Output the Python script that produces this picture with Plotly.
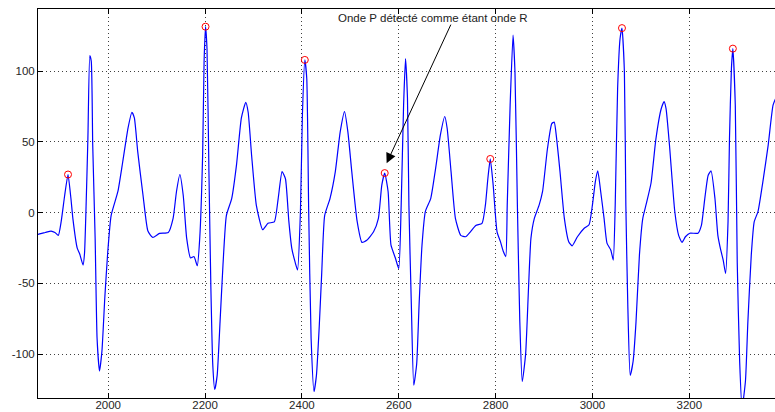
import plotly.graph_objects as go

# ECG samples (sample index, amplitude)
sample_idx = [
    1850, 1858, 1870, 1882, 1890, 1897, 1903, 1910, 1917, 1923, 1927, 1936, 1941, 1948,
    1951, 1954, 1958, 1962, 1965, 1968, 1973, 1977, 1982, 1987, 1993, 1999, 2006, 2020,
    2030, 2041, 2049, 2054, 2061, 2072, 2082, 2092, 2106, 2124, 2134, 2141, 2148, 2155,
    2162, 2170, 2177, 2184, 2189, 2195, 2198, 2201, 2204, 2208, 2212, 2216, 2220, 2225,
    2231, 2237, 2244, 2255, 2265, 2275, 2284, 2289, 2296, 2306, 2319, 2330, 2343, 2351,
    2359, 2366, 2373, 2379, 2386, 2391, 2397, 2401, 2406, 2410, 2414, 2419, 2425, 2430,
    2436, 2441, 2447, 2458, 2469, 2479, 2488, 2495, 2503, 2514, 2524, 2534, 2548, 2558,
    2565, 2571, 2578, 2584, 2593, 2600, 2605, 2610, 2614, 2618, 2621, 2626, 2631, 2637,
    2642, 2648, 2655, 2666, 2676, 2686, 2695, 2700, 2708, 2717, 2728, 2738, 2748, 2759,
    2772, 2779, 2784, 2789, 2795, 2803, 2810, 2816, 2821, 2824, 2830, 2836, 2840, 2845,
    2850, 2855, 2862, 2868, 2873, 2880, 2890, 2897, 2907, 2916, 2921, 2926, 2933, 2942,
    2951, 2958, 2969, 2983, 2993, 3000, 3006, 3011, 3017, 3024, 3030, 3038, 3043, 3047,
    3052, 3057, 3061, 3066, 3069, 3073, 3078, 3084, 3090, 3097, 3104, 3111, 3121, 3131,
    3142, 3148, 3152, 3159, 3170, 3178, 3185, 3192, 3201, 3218, 3225, 3232, 3239, 3245,
    3253, 3259, 3265, 3270, 3275, 3280, 3283, 3287, 3290, 3295, 3299, 3304, 3309, 3316,
    3321, 3328, 3334, 3342, 3352, 3363, 3373, 3380,
]
amplitude = [
    -16, -15, -14, -13, -14, -16, -6, 12, 27, 10, -4, -25, -29, -37,
    -29, 1, 52, 111, 107, 48, -18, -89, -112, -98, -60, -28, -2, 15,
    36, 60, 71, 67, 43, 12, -13, -17.5, -14.6, -14, -4, 15, 27, 12,
    -18, -32, -31, -37.5, -18, 41, 107, 131.5, 116, 29, -53, -108, -125, -115,
    -77, -37, -2, 10, 34, 67, 78, 71, 41, 5, -12, -7.5, -6.5, 10,
    29, 24, -6, -25, -35, -40.5, 1, 69, 108, 95, 1, -89, -126.5, -115,
    -79, -42, -2, 10, 29, 57, 71.5, 57, 29, -6, -21, -19.5, -13.5, -4,
    19.5, 28, 15, -23, -32, -39.5, 5, 76, 109, 81, 5, -65, -122, -107,
    -65, -23, 1, 10, 31, 55, 68, 59.5, 29, -4, -16, -17, -13.5, -9,
    -7.5, 5.5, 24, 38, 19.5, -13.5, -20.5, -27.5, -31, 5, 76, 125.5, 99.5, 5,
    -77, -119.5, -100, -53, -18, -4, 5.5, 15, 45, 63, 64, 52.5, 29, -4,
    -20.5, -23.5, -17, -11, -8.5, 5.5, 22, 29.5, 15, -4, -21.5, -26.5, -33.5, 5,
    88, 123, 130.5, 99.5, 5, -65, -115, -105, -77, -30, -4, 6, 21, 52,
    73.5, 78.5, 73.5, 48, 1, -16, -21, -17, -14.5, -14.5, -9, 10, 26.5, 29.5,
    10, -16, -26.5, -33.5, -43, -6.5, 52.5, 102, 116, 76, -35, -105, -138, -119,
    -77, -30, -6.5, 1, 22, 48, 76, 82,
]

# Peaks flagged by the R-wave detector
peak_idx = [1917, 2201, 2406, 2571, 2789, 3061, 3290]
peak_amp = [27, 131.5, 108, 28, 38, 130.5, 116]

x_ticks = [2000, 2200, 2400, 2600, 2800, 3000, 3200]
y_ticks = [-100, -50, 0, 50, 100]
y_tick_text = ["-100", "-50", "0", "50", "100"]

note_text = "Onde P détecté comme étant onde R"

fig = go.Figure()
fig.add_trace(go.Scatter(
    x=sample_idx, y=amplitude, mode="lines",
    line=dict(color="#0000ff", width=1.2, shape="spline", smoothing=0.5),
    showlegend=False, hoverinfo="skip",
))
fig.add_trace(go.Scatter(
    x=peak_idx, y=peak_amp, mode="markers",
    marker=dict(symbol="circle-open", size=7, color="#ff0000", line=dict(width=1)),
    showlegend=False,
))

tick_font = dict(family="Liberation Sans, Arial, sans-serif", size=11.5, color="#262626")
grid_style = dict(showgrid=True, gridcolor="rgba(0,0,0,0.75)", griddash="1px,3px", gridwidth=1)

fig.update_xaxes(
    range=[1855, 3377], tickvals=x_ticks, ticks="inside", ticklen=5, tickcolor="black",
    showline=True, linecolor="black", linewidth=1, mirror="allticks",
    zeroline=False, tickfont=tick_font, automargin=False, ticklabelstandoff=-4,
    **grid_style,
)
fig.update_yaxes(
    range=[-131, 144], tickvals=y_ticks, ticktext=y_tick_text, ticks="inside",
    ticklen=5, tickcolor="black",
    showline=True, linecolor="black", linewidth=1, mirror=False,
    zeroline=False, tickfont=tick_font, automargin=False, **grid_style,
)

fig.add_annotation(
    x=2670, y=137.4, xref="x", yref="y", text=note_text, showarrow=False,
    font=dict(family="Liberation Sans, Arial, sans-serif", size=11.5, color="#222222"),
    xanchor="center", yanchor="middle",
)
fig.add_annotation(
    x=2575, y=35, ax=2709, ay=134, xref="x", yref="y", axref="x", ayref="y",
    text="", showarrow=True, arrowhead=2, arrowsize=2, arrowwidth=1, arrowcolor="black",
)

fig.update_layout(
    width=775, height=412,
    margin=dict(l=38, r=0, t=9, b=14),
    paper_bgcolor="white", plot_bgcolor="white",
    showlegend=False,
)

fig.write_html("out.html")
